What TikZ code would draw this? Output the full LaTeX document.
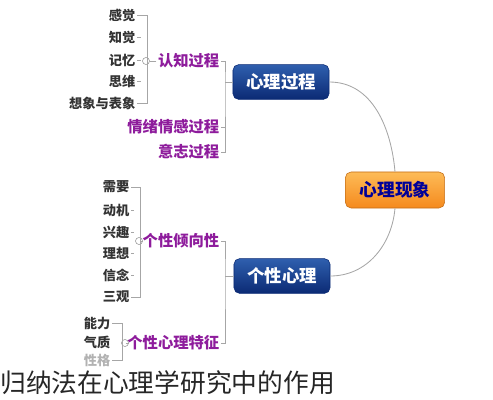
\documentclass[tikz,border=0pt]{standalone}
\usepackage{fontspec}
\setmainfont{Noto Sans CJK SC}
\newfontfamily\cjk{Noto Sans CJK SC}
\usetikzlibrary{positioning}

\definecolor{boxtop}{HTML}{2F5FAE}
\definecolor{boxbot}{HTML}{0B2A74}
\definecolor{orgtop}{HTML}{FDBB57}
\definecolor{orgbot}{HTML}{F58A1E}
\definecolor{subcol}{HTML}{8E1C9C}
\definecolor{leafcol}{HTML}{333333}

\tikzset{
  leaf/.style = {anchor=east, inner sep=1pt, text=leafcol, font=\cjk\bfseries\fontsize{9.4}{11}\selectfont},
  subtopic/.style = {anchor=east, inner sep=1pt, text=subcol, font=\cjk\bfseries\fontsize{10.9}{13}\selectfont},
  mainbox/.style = {rounded corners=4pt, minimum width=2.4cm, minimum height=0.87cm, top color=boxtop, bottom color=boxbot, draw=boxbot, text=white, font=\cjk\bfseries\fontsize{12.4}{14}\selectfont},
  centerbox/.style = {rounded corners=4pt, minimum width=2.48cm, minimum height=0.9cm, top color=orgtop, bottom color=orgbot, draw=orgbot!80!black, text=blue!60!black, font=\cjk\bfseries\fontsize{12.6}{14}\selectfont},
  branch/.style = {draw=black!35, line width=0.6pt},
  fold/.style = {draw=black!40, fill=white, circle, inner sep=0pt, minimum size=5pt}
}

\begin{document}
\begin{tikzpicture}[x=0.025cm, y=-0.025cm]
      \useasboundingbox (0, 0) rectangle (493, 400);
      % main topics
      \node [centerbox] (phen) at (395, 190) {心理现象};
      \node [mainbox] (proc) at (281, 82) {心理过程};
      \node [mainbox] (pers) at (282, 276) {个性心理};
      \draw [branch] (proc.east) to [out=0, in=95] (phen.north);
      \draw [branch] (pers.east) to [out=0, in=-95] (phen.south);

      % psychological process
      \node [subtopic] (cog) at (221, 61) {认知过程};
      \node [subtopic] (emo) at (221, 127) {情绪情感过程};
      \node [subtopic] (will) at (221, 152) {意志过程};
      \coordinate (pbar) at (225, 82);
      \draw [branch] (proc.west) -- (pbar);
      \draw [branch] (cog.east) -| (pbar) |- (will.east);
      \draw [branch] (emo.east) -- (emo.east -| pbar);

      \node [leaf] (sense) at (137, 15) {感觉};
      \node [leaf] (perc) at (137, 37) {知觉};
      \node [leaf] (mem) at (137, 60) {记忆};
      \node [leaf] (think) at (137, 81) {思维};
      \node [leaf] (imag) at (137, 103) {想象与表象};
      \node [fold] (cogfold) at (146, 61) {};
      \draw [branch] (cog.west) -- (cogfold);
      \draw [branch] (sense.east) -| ([xshift=4] cogfold.west) |- (imag.east);
      \foreach \n in {perc, mem, think}
        \draw [branch] (\n.east) -- ++(4, 0);

      % personality
      \node [subtopic] (tend) at (221, 241) {个性倾向性};
      \node [subtopic] (trait) at (221, 343) {个性心理特征};
      \coordinate (qbar) at (225, 276);
      \draw [branch] (pers.west) -- (qbar);
      \draw [branch] (tend.east) -| (qbar) |- (trait.east);

      \node [leaf] (need) at (131, 187) {需要};
      \node [leaf] (motive) at (131, 210) {动机};
      \node [leaf] (interest) at (131, 232) {兴趣};
      \node [leaf] (ideal) at (131, 253) {理想};
      \node [leaf] (belief) at (131, 275) {信念};
      \node [leaf] (views) at (131, 297) {三观};
      \node [fold] (tendfold) at (139, 241) {};
      \draw [branch] (tend.west) -- (tendfold);
      \draw [branch] (need.east) -| ([xshift=4] tendfold.west) |- (views.east);
      \foreach \n in {motive, interest, ideal, belief}
        \draw [branch] (\n.east) -- ++(3, 0);

      \node [leaf] (ability) at (112, 323) {能力};
      \node [leaf] (temper) at (112, 342) {气质};
      \node [leaf, text=black!30] (charac) at (112, 360) {性格};
      \node [fold] (traitfold) at (125, 343) {};
      \draw [branch] (trait.west) -- (traitfold);
      \draw [branch] (ability.east) -| ([xshift=1] traitfold.west) |- (charac.east);

      % caption
      \node [anchor=west, inner sep=0pt, text=black!85, font=\cjk\fontsize{18.3}{20}\selectfont] (caption) at (0, 383) {归纳法在心理学研究中的作用};
    \end{tikzpicture}
\end{document}
